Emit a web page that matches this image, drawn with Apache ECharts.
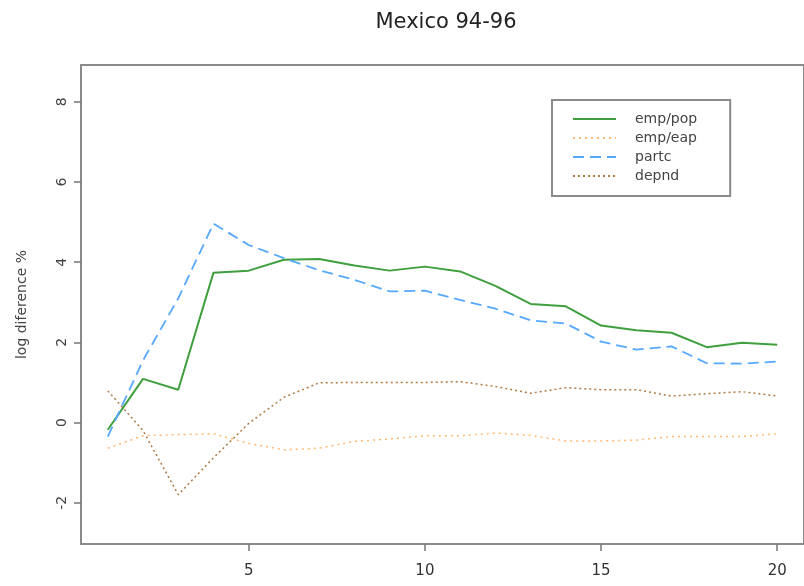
<!DOCTYPE html>
<html>
<head>
<meta charset="utf-8">
<script src="https://cdn.jsdelivr.net/npm/echarts@6/dist/echarts.min.js"></script>
<style>html,body{margin:0;padding:0;background:#fff}#c{width:804px;height:586px}</style>
</head>
<body>
<div id="c"></div>
<script>
var periods = [1,2,3,4,5,6,7,8,9,10,11,12,13,14,15,16,17,18,19,20];
var empPop = [-0.18,1.09,0.82,3.74,3.79,4.06,4.08,3.92,3.79,3.89,3.77,3.41,2.96,2.90,2.42,2.30,2.24,1.88,1.99,1.94];
var empEap = [-0.64,-0.33,-0.30,-0.28,-0.52,-0.68,-0.64,-0.47,-0.41,-0.33,-0.33,-0.26,-0.32,-0.46,-0.46,-0.44,-0.35,-0.35,-0.35,-0.28];
var partc = [-0.35,1.55,3.10,4.96,4.43,4.10,3.80,3.56,3.27,3.29,3.06,2.84,2.55,2.47,2.02,1.82,1.90,1.48,1.47,1.52];
var depnd = [0.79,-0.20,-1.80,-0.88,-0.02,0.63,0.99,1.00,1.00,1.00,1.02,0.90,0.73,0.87,0.82,0.82,0.66,0.72,0.77,0.66];
var xTicks = [5,10,15,20];
var yTicks = [-2,0,2,4,6,8];
var seriesNames = ['emp/pop','emp/eap','partc','depnd'];
var title = 'Mexico 94-96';
var yName = 'log diference %';

function pairs(v){ return periods.map(function(p,i){ return [p, v[i]]; }); }

var font = 'DejaVu Sans, Liberation Sans, sans-serif';
var chart = echarts.init(document.getElementById('c'), null, {renderer:'canvas'});
chart.setOption({
  animation:false,
  backgroundColor:'#fff',
  title:{text:title, left:446, top:12, padding:0, textAlign:'center',
    textStyle:{fontFamily:font, fontSize:21, fontWeight:'normal', color:'#222'}},
  grid:{left:81, top:65, width:732, bottom:42, show:true, borderColor:'#8a8a8a', borderWidth:2, backgroundColor:'transparent'},
  legend:{
    orient:'vertical', left:552, top:100, padding:[12,33,13,20],
    borderColor:'#8a8a8a', borderWidth:2, backgroundColor:'#fff',
    itemWidth:43, itemHeight:14, itemGap:5,
    itemStyle:{opacity:0},
    textStyle:{fontFamily:font, fontSize:14, color:'#444', padding:[0,0,0,14]},
    data:seriesNames
  },
  xAxis:{type:'value', min:0.24, max:20.76,
    axisLine:{show:false, onZero:false},
    axisTick:{show:true, length:7, inside:false, lineStyle:{color:'#777', width:1.5}, customValues:xTicks},
    axisLabel:{fontFamily:font, fontSize:15, color:'#333', margin:20, customValues:xTicks},
    splitLine:{show:false}},
  yAxis:{type:'value', min:-3.03, max:8.92,
    name:yName, nameLocation:'middle', nameGap:52, nameRotate:90,
    nameTextStyle:{fontFamily:font, fontSize:14, color:'#444'},
    axisLine:{show:false, onZero:false},
    axisTick:{show:true, length:7, lineStyle:{color:'#777', width:1.5}, customValues:yTicks},
    axisLabel:{fontFamily:font, fontSize:14, color:'#444', margin:12, rotate:90, customValues:yTicks},
    splitLine:{show:false}},
  series:[
    {name:'emp/pop', type:'line', data:pairs(empPop), symbol:'none',
      lineStyle:{color:'#3f9f3f', width:2, type:'solid'}, itemStyle:{color:'#3f9f3f'}},
    {name:'emp/eap', type:'line', data:pairs(empEap), symbol:'none',
      lineStyle:{color:'#ffb870', width:1.5, type:[2,4]}, itemStyle:{color:'#ffb870'}},
    {name:'partc', type:'line', data:pairs(partc), symbol:'none',
      lineStyle:{color:'#55a8ff', width:1.8, type:[11,6]}, itemStyle:{color:'#55a8ff'}},
    {name:'depnd', type:'line', data:pairs(depnd), symbol:'none',
      lineStyle:{color:'#b07a45', width:1.5, type:[2,3]}, itemStyle:{color:'#b07a45'}}
  ]
});
</script>
</body>
</html>
